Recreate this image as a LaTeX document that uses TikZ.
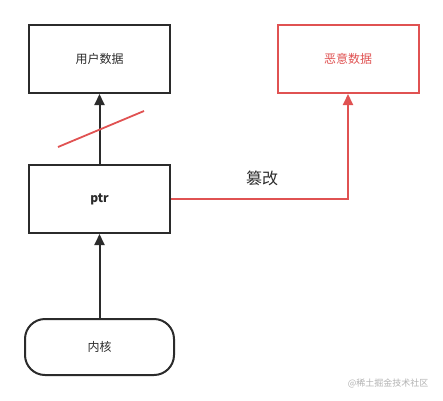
\documentclass[tikz,border=0pt]{standalone}
\usepackage{fontspec}
\setmainfont{Noto Sans CJK SC}
\newfontfamily\cjk{Noto Sans CJK SC}
\usetikzlibrary{arrows.meta}
\definecolor{dk}{HTML}{2B2B2B}
\definecolor{rd}{HTML}{E05252}
\begin{document}
\begin{tikzpicture}[x=1pt,y=-1pt,
  box/.style={draw=dk,line width=2pt,fill=white,minimum width=141pt,minimum height=68pt,inner sep=0pt,font=\cjk\fontsize{12}{14}\selectfont,text=dk},
  redbox/.style={box,draw=rd,text=rd},
  conn/.style={line width=2pt,draw=dk,-{Triangle[length=11pt,width=10pt]}},
  rconn/.style={line width=2pt,draw=rd,-{Triangle[length=11pt,width=10pt]}}]
\useasboundingbox (0,0) rectangle (443,400);
\node[box] (user) at (99.5,59) {用户数据};
\node[redbox] (evil) at (348,59) {恶意数据};
\node[box,font=\cjk\bfseries\fontsize{12}{14}\selectfont] (ptr) at (99.5,199) {ptr};
\node[box,minimum width=149pt,minimum height=56pt,rounded corners=20pt] (kern) at (99.5,347) {内核};
\draw[conn] (ptr.north) -- (user.south);
\draw[conn] (kern.north) -- (ptr.south);
\coordinate (c1) at (58,147);
\coordinate (c2) at (144,111);
\draw[rd,line width=1.8pt] (c1) -- (c2);
\coordinate (bend) at (348,199);
\draw[rconn] (ptr.east) -- (bend) -- (evil.south);
\node[font=\cjk\fontsize{16}{18}\selectfont,text=dk] (lbl) at (262,178) {篡改};
\node[font=\cjk\fontsize{9}{11}\selectfont,text=gray!60,anchor=east] (wm) at (432,383) {@稀土掘金技术社区};
\end{tikzpicture}
\end{document}
